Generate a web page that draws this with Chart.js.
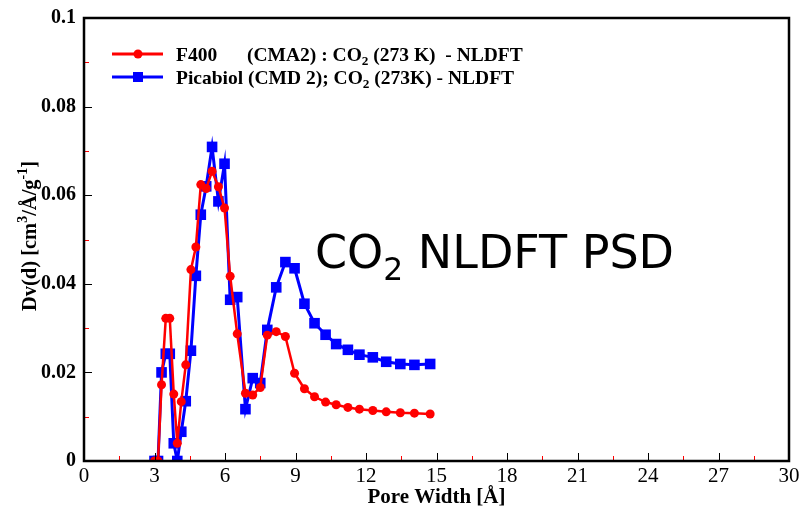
<!DOCTYPE html>
<html>
<head>
<meta charset="utf-8">
<script src="https://cdn.jsdelivr.net/npm/chart.js@4.4.1/dist/chart.umd.min.js"></script>
<style>
html,body{margin:0;padding:0;background:#fff;}
#wrap{width:800px;height:512px;position:relative;}
</style>
</head>
<body>
<div id="wrap"><canvas id="c" width="800" height="512"></canvas></div>
<script>
// Pore width (Å)
const poreWidth = [3.0, 3.15, 3.3, 3.48, 3.65, 3.82, 3.97, 4.14, 4.33, 4.55, 4.76, 4.97, 5.2, 5.45, 5.72, 5.98, 6.22, 6.52, 6.87, 7.18, 7.5, 7.8, 8.18, 8.57, 8.96, 9.38, 9.81, 10.28, 10.73, 11.23, 11.72, 12.29, 12.86, 13.46, 14.06, 14.73];
// F400 (CMA2) CO2 273 K NLDFT
const f400 = [0, 0, 0.0172, 0.0322, 0.0322, 0.0151, 0.004, 0.0134, 0.0217, 0.0432, 0.0483, 0.0624, 0.0615, 0.0654, 0.0619, 0.0571, 0.0417, 0.0287, 0.0153, 0.0149, 0.0166, 0.0284, 0.0292, 0.0281, 0.0198, 0.0163, 0.0145, 0.0133, 0.0127, 0.0121, 0.0117, 0.0114, 0.0111, 0.0109, 0.0108, 0.0106];
// Picabiol (CMD 2) CO2 273 K NLDFT
const picabiol = [0, 0, 0.0200, 0.0242, 0.0242, 0.0040, 0, 0.0066, 0.0135, 0.0249, 0.0418, 0.0556, 0.0620, 0.0709, 0.0586, 0.0671, 0.0364, 0.0370, 0.0117, 0.0187, 0.0176, 0.0296, 0.0392, 0.0449, 0.0435, 0.0355, 0.0311, 0.0285, 0.0264, 0.0251, 0.0240, 0.0234, 0.0224, 0.0219, 0.0217, 0.0219];
const xTicks = [0, 3, 6, 9, 12, 15, 18, 21, 24, 27, 30];
const yTicks = [0, 0.02, 0.04, 0.06, 0.08, 0.1];
const yTickLabels = ['0', '0.02', '0.04', '0.06', '0.08', '0.1'];

const SERIF = '"Liberation Serif", "Times New Roman", serif';

function drawRich(ctx, x, y, parts, size, weight, family) {
  ctx.textBaseline = 'alphabetic';
  let cx = x;
  for (const p of parts) {
    let fs = size, dy = 0;
    if (p.sub) { fs = size * 0.68; dy = size * 0.25; }
    if (p.sup) { fs = size * 0.68; dy = -size * 0.42; }
    ctx.font = weight + ' ' + fs + 'px ' + family;
    ctx.fillText(p.t, cx, y + dy);
    cx += ctx.measureText(p.t).width;
  }
  return cx;
}

const deco = {
  id: 'deco',
  afterDraw(chart) {
    const ctx = chart.ctx;
    const xs = chart.scales.x, ys = chart.scales.y;
    const a = chart.chartArea;
    ctx.save();
    // ticks (inward)
    for (let i = 0; i <= 20; i++) {
      const v = i * 1.5;
      const px = xs.getPixelForValue(v);
      const major = i % 2 === 0;
      ctx.strokeStyle = major ? '#000' : '#ff0000';
      ctx.lineWidth = 1;
      ctx.beginPath();
      ctx.moveTo(Math.round(px) + 0.5, a.bottom);
      ctx.lineTo(Math.round(px) + 0.5, a.bottom - (major ? 8 : 5));
      ctx.stroke();
    }
    for (let i = 0; i <= 10; i++) {
      const v = i * 0.01;
      const py = ys.getPixelForValue(v);
      const major = i % 2 === 0;
      ctx.strokeStyle = major ? '#000' : '#ff0000';
      ctx.lineWidth = 1;
      ctx.beginPath();
      ctx.moveTo(a.left, Math.round(py) + 0.5);
      ctx.lineTo(a.left + (major ? 8 : 5), Math.round(py) + 0.5);
      ctx.stroke();
    }
    // frame
    ctx.strokeStyle = '#000';
    ctx.lineWidth = 2.5;
    ctx.strokeRect(a.left, a.top, a.right - a.left, a.bottom - a.top);

    ctx.fillStyle = '#000';
    // x title
    ctx.font = 'bold 21px ' + SERIF;
    ctx.textAlign = 'center';
    ctx.textBaseline = 'alphabetic';
    ctx.fillText('Pore Width [Å]', (a.left + a.right) / 2, 503);
    // y title
    ctx.save();
    ctx.translate(36, 236);
    ctx.rotate(-Math.PI / 2);
    ctx.textAlign = 'left';
    const yparts = [{t:'Dv(d) [cm'},{t:'3',sup:true},{t:'/Å/g'},{t:'-1',sup:true},{t:']'}];
    const ys0 = 20.5;
    let w = 0;
    for (const p of yparts) { ctx.font = 'bold ' + (p.sup ? ys0*0.68 : ys0) + 'px ' + SERIF; w += ctx.measureText(p.t).width; }
    drawRich(ctx, -w / 2, 0, yparts, ys0, 'bold', SERIF);
    ctx.restore();

    // legend
    ctx.textAlign = 'left';
    const lg = [
      {y: 54, color: '#ff0000', style: 'circle', parts1: [{t:'F400'}], x2: 247, parts2: [{t:'(CMA2) : CO'},{t:'2',sub:true},{t:' (273 K)  - NLDFT'}]},
      {y: 77, color: '#0000ff', style: 'rect', parts1: [{t:'Picabiol (CMD 2); CO'},{t:'2',sub:true},{t:' (273K) - NLDFT'}]}
    ];
    for (const l of lg) {
      ctx.strokeStyle = l.color;
      ctx.lineWidth = 3;
      ctx.beginPath(); ctx.moveTo(112, l.y); ctx.lineTo(163, l.y); ctx.stroke();
      ctx.fillStyle = l.color;
      if (l.style === 'circle') { ctx.beginPath(); ctx.arc(138, l.y, 4.5, 0, Math.PI * 2); ctx.fill(); }
      else { ctx.fillRect(133, l.y - 5, 10, 10); }
      ctx.fillStyle = '#000';
      drawRich(ctx, 176, l.y + 6.5, l.parts1, 19.5, 'bold', SERIF);
      if (l.parts2) drawRich(ctx, l.x2, l.y + 6.5, l.parts2, 19.5, 'bold', SERIF);
    }

    // big annotation
    ctx.fillStyle = '#000';
    drawRich(ctx, 315, 268, [{t:'CO'},{t:'2',sub:true},{t:' NLDFT PSD'}], 46, 'normal', '"DejaVu Sans", sans-serif');
    ctx.restore();
  }
};

new Chart(document.getElementById('c'), {
  type: 'scatter',
  data: {
    datasets: [
      {
        label: 'F400 (CMA2) : CO2 (273 K) - NLDFT',
        data: poreWidth.map((x, i) => ({x, y: f400[i]})),
        showLine: true,
        borderColor: '#ff0000',
        backgroundColor: '#ff0000',
        borderWidth: 2.5,
        pointStyle: 'circle',
        pointRadius: 4.5,
        pointBorderWidth: 0,
        tension: 0
      },
      {
        label: 'Picabiol (CMD 2); CO2 (273K) - NLDFT',
        data: poreWidth.map((x, i) => ({x, y: picabiol[i]})),
        showLine: true,
        borderColor: '#0000ff',
        backgroundColor: '#0000ff',
        borderWidth: 3,
        pointStyle: 'rect',
        pointRadius: 7.5,
        pointBorderWidth: 0,
        tension: 0
      }
    ]
  },
  options: {
    responsive: false,
    animation: false,
    layout: { padding: { top: 18, right: 11, left: 0, bottom: 0 } },
    plugins: { legend: { display: false }, tooltip: { enabled: false } },
    scales: {
      x: {
        type: 'linear', min: 0, max: 30,
        afterBuildTicks: s => { s.ticks = xTicks.map(v => ({value: v})); },
        afterFit: s => { s.height = 51; },
        grid: { display: false },
        border: { display: false },
        ticks: { color: '#000', font: { family: SERIF, size: 21, lineHeight: 1 }, padding: -3, maxRotation: 0, autoSkip: false, callback: v => String(v) }
      },
      y: {
        type: 'linear', min: 0, max: 0.1,
        afterBuildTicks: s => { s.ticks = yTicks.map(v => ({value: v})); },
        afterFit: s => { s.width = 84; },
        grid: { display: false },
        border: { display: false },
        ticks: { color: '#000', font: { family: SERIF, size: 20, weight: 'bold' }, padding: 0, autoSkip: false,
          callback: (v) => { const i = yTicks.findIndex(t => Math.abs(t - v) < 1e-9); return i >= 0 ? yTickLabels[i] : ''; } }
      }
    }
  },
  plugins: [deco]
});
</script>
</body>
</html>
